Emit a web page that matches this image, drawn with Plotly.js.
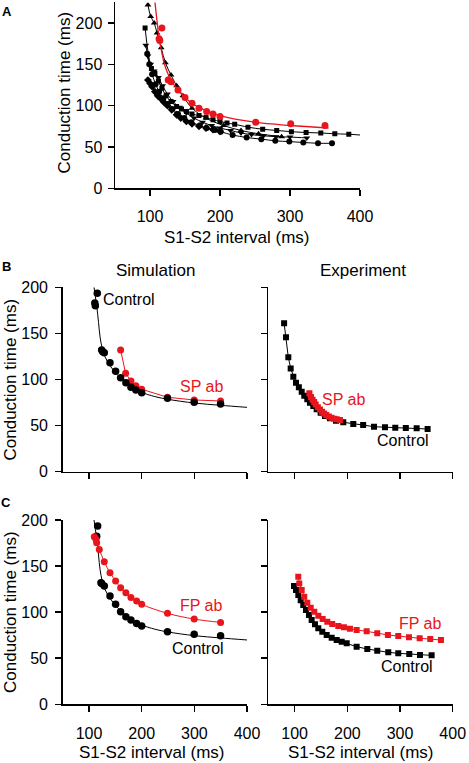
<!DOCTYPE html>
<html><head><meta charset="utf-8">
<script src="https://cdn.plot.ly/plotly-3.0.1.min.js"></script>
<style>html,body{margin:0;padding:0;background:#fff}#chart{width:469px;height:763px}</style>
</head><body><div id="chart"></div>
<script>
// ---------- Panel A ----------
const aRedX = [113, 114, 117, 126, 130, 140, 150, 160, 170, 181, 190, 200, 251, 301, 350];
const aRedY = [181, 179, 194, 131, 129, 119, 110, 103, 97, 93, 90, 87, 80, 78, 76];
const aRedFitX = [107, 109, 111, 113, 116, 120, 125, 130, 140, 150, 160, 170, 180, 200, 250, 300, 355];
const aRedFitY = [226, 210, 195, 182, 168, 152, 140, 131, 119, 110, 103, 98, 94, 88, 80, 76, 73];
const aSqX = [93, 102, 107, 112, 117, 123, 130, 138, 145, 152, 160, 170, 180, 190, 200, 210, 221, 240, 261, 281, 302, 323, 344, 364, 384];
const aSqY = [194, 145, 139, 130, 121, 112, 105, 99, 96, 93, 90, 88, 86, 83, 81, 79, 77.5, 74, 71.5, 70, 68.5, 67.5, 67, 66, 65.5];
const aSqTailX = [384, 400];
const aSqTailY = [65.5, 64.5];
const aCircX = [96, 99, 103, 108, 113, 119, 125, 132, 140, 149, 159, 171, 181, 193, 201, 218, 238, 259, 279, 299, 319, 340, 360];
const aCircY = [163, 150, 138, 126, 117, 109, 102, 96, 90, 85, 80, 76, 73, 70.5, 68.5, 64.5, 61.5, 59.5, 57.5, 56.5, 55.5, 54.5, 54.5];
const aDiamX = [97, 100, 103, 107, 111, 116, 120, 125, 131, 138, 144, 152, 160, 170, 180, 190, 200];
const aDiamY = [131, 127, 123, 117, 112, 108, 104, 100, 95, 89, 85, 81, 78, 75, 73, 71, 69];
const aTriUpX = [97, 101, 106, 110, 116, 122, 130, 138, 147, 160, 180, 205, 230, 255, 288];
const aTriUpY = [222, 208, 200, 188, 170, 152, 137, 124, 112, 97, 85, 76, 70, 66, 62.5];
const aTriDnX = [94, 97, 101, 106, 112, 118, 125, 133, 142, 152, 163, 175, 188, 200, 215, 230, 245, 262, 280, 300, 324];
const aTriDnY = [173, 160, 150, 142, 134, 124, 114, 105, 98, 91, 85, 80, 76, 73, 70, 67, 65, 63.5, 62.5, 62, 61];

// ---------- Simulation (B left / C left) ----------
const simCtrlFitX = [109.5, 112, 115, 118, 121, 125, 130, 140, 150, 160, 170, 180, 190, 200, 225, 250, 300, 350, 400];
const simCtrlFitY = [200, 190, 178, 162, 146, 134, 125, 115, 107.5, 101.5, 96.5, 92.5, 89, 86, 81.5, 78.5, 74.5, 72, 69.8];
const bSimCtrlX = [115.7, 111, 112, 124, 126, 129, 139.8, 150.5, 160, 170, 179.6, 189, 200, 249, 299.7, 349.8];
const bSimCtrlY = [193.5, 183, 180, 132, 130, 129, 118.2, 108.9, 102, 96.5, 91.5, 88.6, 85.7, 79.6, 75.3, 73.4];
const bSimSpX = [160, 169.5, 179.6, 189, 200, 249, 299.7, 349.8];
const bSimSpY = [132, 106.7, 98.4, 93.3, 89.4, 80.7, 77.8, 76.7];
const cSimCtrlX = [116.4, 114.5, 122.7, 124, 129, 139.8, 150.5, 160, 170, 179.6, 190.4, 200, 249, 299.7, 349.8];
const cSimCtrlY = [193.4, 182.5, 131.9, 131, 128.3, 117.5, 108.5, 100.4, 95, 91.4, 87.8, 84.9, 78.7, 75.9, 74.4];
const cSimFpX = [110, 113.2, 114.5, 119.5, 129, 139.8, 150.5, 160, 170, 179.6, 190.4, 200, 249, 299.7, 349.8];
const cSimFpY = [181.8, 179, 175.3, 168, 154.7, 142.7, 133.7, 126.5, 121, 116, 112, 108.5, 98.7, 92.5, 88.9];

// ---------- Experiment (B right / C right) ----------
const bExpCtrlX = [80, 83.6, 88, 92.5, 97.5, 102.6, 108, 113.4, 118.3, 124, 129, 135.4, 141.8, 149.4, 157.6, 167, 178.5, 192.3, 211.3, 230, 250.6, 271.5, 291, 311, 331.6, 352.4];
const bExpCtrlY = [161, 145.8, 124, 112, 103, 96.5, 91.5, 86.8, 82.4, 78.5, 74.8, 71.3, 67.7, 64, 60.4, 57.9, 55.3, 53.6, 51.7, 50.6, 48.8, 48.2, 47.7, 47.4, 47, 46.3];
const bExpSpX = [128, 131, 134, 137, 140, 144, 148, 152, 156, 160, 165, 170, 175, 180, 186];
const bExpSpY = [85, 81, 78, 75.5, 73, 70, 67.5, 65, 63, 61.5, 60, 58.5, 57.5, 57, 56];
const cExpCtrlX = [98.8, 102.6, 107, 111.5, 116.4, 121.5, 127.2, 132.3, 138.6, 144.9, 152.5, 160.8, 170.3, 179.8, 189.3, 198.8, 217.7, 237.9, 256.8, 277.7, 296.7, 317.6, 337.9, 360];
const cExpCtrlY = [128.3, 124, 118.5, 113, 107.7, 102.3, 96.9, 91.4, 86.8, 82.4, 78.7, 75.2, 72.2, 69.7, 67.9, 66.2, 62.5, 60, 58.1, 56.4, 55.3, 54.6, 53.5, 53.1];
const cExpFpX = [106.9, 108.8, 113.4, 118.3, 124, 130.5, 137.3, 144.9, 153.2, 162, 171.4, 182.8, 193.6, 205, 217.7, 236.7, 256.8, 277, 296.7, 317, 337.3, 357.4, 377.7];
const cExpFpY = [138.4, 131.2, 124, 116.7, 110.2, 104.8, 100.4, 96.1, 92.5, 89.6, 87.1, 84.9, 83.5, 82, 80.6, 79.2, 77, 75.2, 74.1, 72.7, 71.6, 70.8, 69.7];

const xTicks = [100, 200, 300, 400];
const yTicks = [0, 50, 100, 150, 200];

const RED = 'rgb(232,22,28)';
const BLK = '#000';
const FONT = 'Liberation Sans, Arial, Helvetica, sans-serif';
const W = 469, H = 763;
const fx = p => p / W, fy = p => 1 - p / H;

function mk(x, y, xa, ya, opts) {
  return Object.assign({x, y, xaxis: xa, yaxis: ya, type: 'scatter', hoverinfo: 'skip', cliponaxis: true}, opts);
}
const traces = [
  // Panel A
  mk(aTriUpX, aTriUpY, 'x', 'y', {mode: 'lines+markers', line: {color: BLK, width: 1, shape: 'spline'}, marker: {symbol: 'triangle-up', size: 6, color: BLK}}),
  mk(aTriDnX, aTriDnY, 'x', 'y', {mode: 'lines+markers', line: {color: BLK, width: 1, shape: 'spline'}, marker: {symbol: 'triangle-down', size: 6, color: BLK}}),
  mk(aDiamX, aDiamY, 'x', 'y', {mode: 'lines+markers', line: {color: BLK, width: 1, shape: 'spline'}, marker: {symbol: 'diamond', size: 6, color: BLK}}),
  mk(aCircX, aCircY, 'x', 'y', {mode: 'lines+markers', line: {color: BLK, width: 1, shape: 'spline'}, marker: {symbol: 'circle', size: 6, color: BLK}}),
  mk(aSqX, aSqY, 'x', 'y', {mode: 'lines+markers', line: {color: BLK, width: 1, shape: 'spline'}, marker: {symbol: 'square', size: 5, color: BLK}}),
  mk(aSqTailX, aSqTailY, 'x', 'y', {mode: 'lines', line: {color: BLK, width: 1}}),
  mk(aRedFitX, aRedFitY, 'x', 'y', {mode: 'lines', line: {color: RED, width: 1.3, shape: 'spline'}}),
  mk(aRedX, aRedY, 'x', 'y', {mode: 'markers', marker: {symbol: 'circle', size: 7, color: RED}}),
  // B left
  mk(simCtrlFitX, simCtrlFitY, 'x2', 'y2', {mode: 'lines', line: {color: BLK, width: 1, shape: 'spline'}}),
  mk(bSimSpX, bSimSpY, 'x2', 'y2', {mode: 'lines+markers', line: {color: RED, width: 1}, marker: {size: 7, color: RED}}),
  mk(bSimCtrlX, bSimCtrlY, 'x2', 'y2', {mode: 'markers', marker: {size: 7.5, color: BLK}}),
  // B right
  mk(bExpCtrlX, bExpCtrlY, 'x3', 'y3', {mode: 'lines+markers', line: {color: BLK, width: 1}, marker: {symbol: 'square', size: 6, color: BLK}}),
  mk(bExpSpX, bExpSpY, 'x3', 'y3', {mode: 'lines+markers', line: {color: RED, width: 1}, marker: {symbol: 'square', size: 6, color: RED}}),
  // C left
  mk(simCtrlFitX, simCtrlFitY, 'x4', 'y4', {mode: 'lines', line: {color: BLK, width: 1, shape: 'spline'}}),
  mk(cSimCtrlX, cSimCtrlY, 'x4', 'y4', {mode: 'markers', marker: {size: 7.5, color: BLK}}),
  mk(cSimFpX, cSimFpY, 'x4', 'y4', {mode: 'lines+markers', line: {color: RED, width: 1, shape: 'spline'}, marker: {size: 7, color: RED}}),
  // C right
  mk(cExpCtrlX, cExpCtrlY, 'x5', 'y5', {mode: 'lines+markers', line: {color: BLK, width: 1}, marker: {symbol: 'square', size: 6, color: BLK}}),
  mk(cExpFpX, cExpFpY, 'x5', 'y5', {mode: 'lines+markers', line: {color: RED, width: 1}, marker: {symbol: 'square', size: 6, color: RED}})
];

function xa(d0, d1, anchor, labels, standoff) {
  return {domain: [fx(d0), fx(d1)], range: [50, 400], anchor, tickvals: xTicks, ticktext: xTicks.map(String),
    showticklabels: labels, ticks: 'outside', ticklen: 6, tickwidth: 1.5, tickcolor: BLK, ticklabelstandoff: standoff,
    showline: true, linewidth: 1.5, linecolor: BLK, showgrid: false, zeroline: false,
    tickfont: {family: FONT, size: 16, color: BLK}, fixedrange: true};
}
function ya(p0, p1, top, anchor, labels, standoff) {
  return {domain: [fy(p1), fy(p0)], range: [0, top], anchor, tickvals: yTicks, ticktext: yTicks.map(String),
    showticklabels: labels, ticks: 'outside', ticklen: 6, tickwidth: 1.5, tickcolor: BLK, ticklabelstandoff: standoff,
    showline: true, linewidth: 1.5, linecolor: BLK, showgrid: false, zeroline: false,
    tickfont: {family: FONT, size: 16, color: BLK}, fixedrange: true};
}

function ann(text, px, py, opts) {
  return Object.assign({text, x: fx(px), y: fy(py), xref: 'paper', yref: 'paper', showarrow: false,
    xanchor: 'center', yanchor: 'middle', font: {family: FONT, size: 16, color: BLK}}, opts || {});
}
const TF = {family: FONT, size: 17, color: BLK};
const annotations = [
  ann('<b>A</b>', 7, 11, {font: {family: FONT, size: 13, color: BLK}}),
  ann('<b>B</b>', 6, 266, {font: {family: FONT, size: 13, color: BLK}}),
  ann('<b>C</b>', 6, 502, {font: {family: FONT, size: 13, color: BLK}}),
  ann('Conduction time (ms)', 63.5, 93, {textangle: -90, font: TF}),
  ann('S1-S2 interval (ms)', 237, 237, {font: TF}),
  ann('Simulation', 155.7, 270.5, {font: TF}),
  ann('Experiment', 363, 270.5, {font: TF}),
  ann('Conduction time (ms)', 10, 379.5, {textangle: -90, font: TF}),
  ann('Conduction time (ms)', 10, 612, {textangle: -90, font: TF}),
  ann('S1-S2 interval (ms)', 151.5, 763, {font: TF, yanchor: 'bottom', borderpad: 0}),
  ann('S1-S2 interval (ms)', 360, 763, {font: TF, yanchor: 'bottom', borderpad: 0}),
  ann('Control', 129, 299),
  ann('SP ab', 201.7, 386.7, {font: {family: FONT, size: 16, color: RED}}),
  ann('SP ab', 343.5, 399.5, {font: {family: FONT, size: 16, color: RED}}),
  ann('Control', 403.3, 440.7),
  ann('FP ab', 201.7, 605, {font: {family: FONT, size: 16, color: RED}}),
  ann('Control', 198.3, 648.3),
  ann('FP ab', 420.5, 623.5, {font: {family: FONT, size: 16, color: RED}}),
  ann('Control', 407.3, 666.7)
];

const layout = {
  width: W, height: H, margin: {l: 0, r: 0, t: 0, b: 0}, paper_bgcolor: '#fff', plot_bgcolor: 'rgba(0,0,0,0)',
  showlegend: false, font: {family: FONT, size: 16, color: BLK},
  xaxis: xa(115, 360, 'y', true, 7), yaxis: ya(2.4, 188.3, 225, 'x', true, 2),
  xaxis2: xa(62.7, 247, 'y2', false, 0), yaxis2: ya(287.3, 471.7, 200, 'x2', true, 4),
  xaxis3: xa(268.3, 452.7, 'y3', false, 0), yaxis3: ya(287.3, 471.7, 200, 'x3', false, 0),
  xaxis4: xa(62.7, 247, 'y4', true, 8), yaxis4: ya(520, 704.3, 200, 'x4', true, 4),
  xaxis5: xa(268.3, 452.7, 'y5', true, 8), yaxis5: ya(520, 704.3, 200, 'x5', false, 0),
  annotations
};
Plotly.newPlot('chart', traces, layout, {displayModeBar: false, staticPlot: true});
</script></body></html>
